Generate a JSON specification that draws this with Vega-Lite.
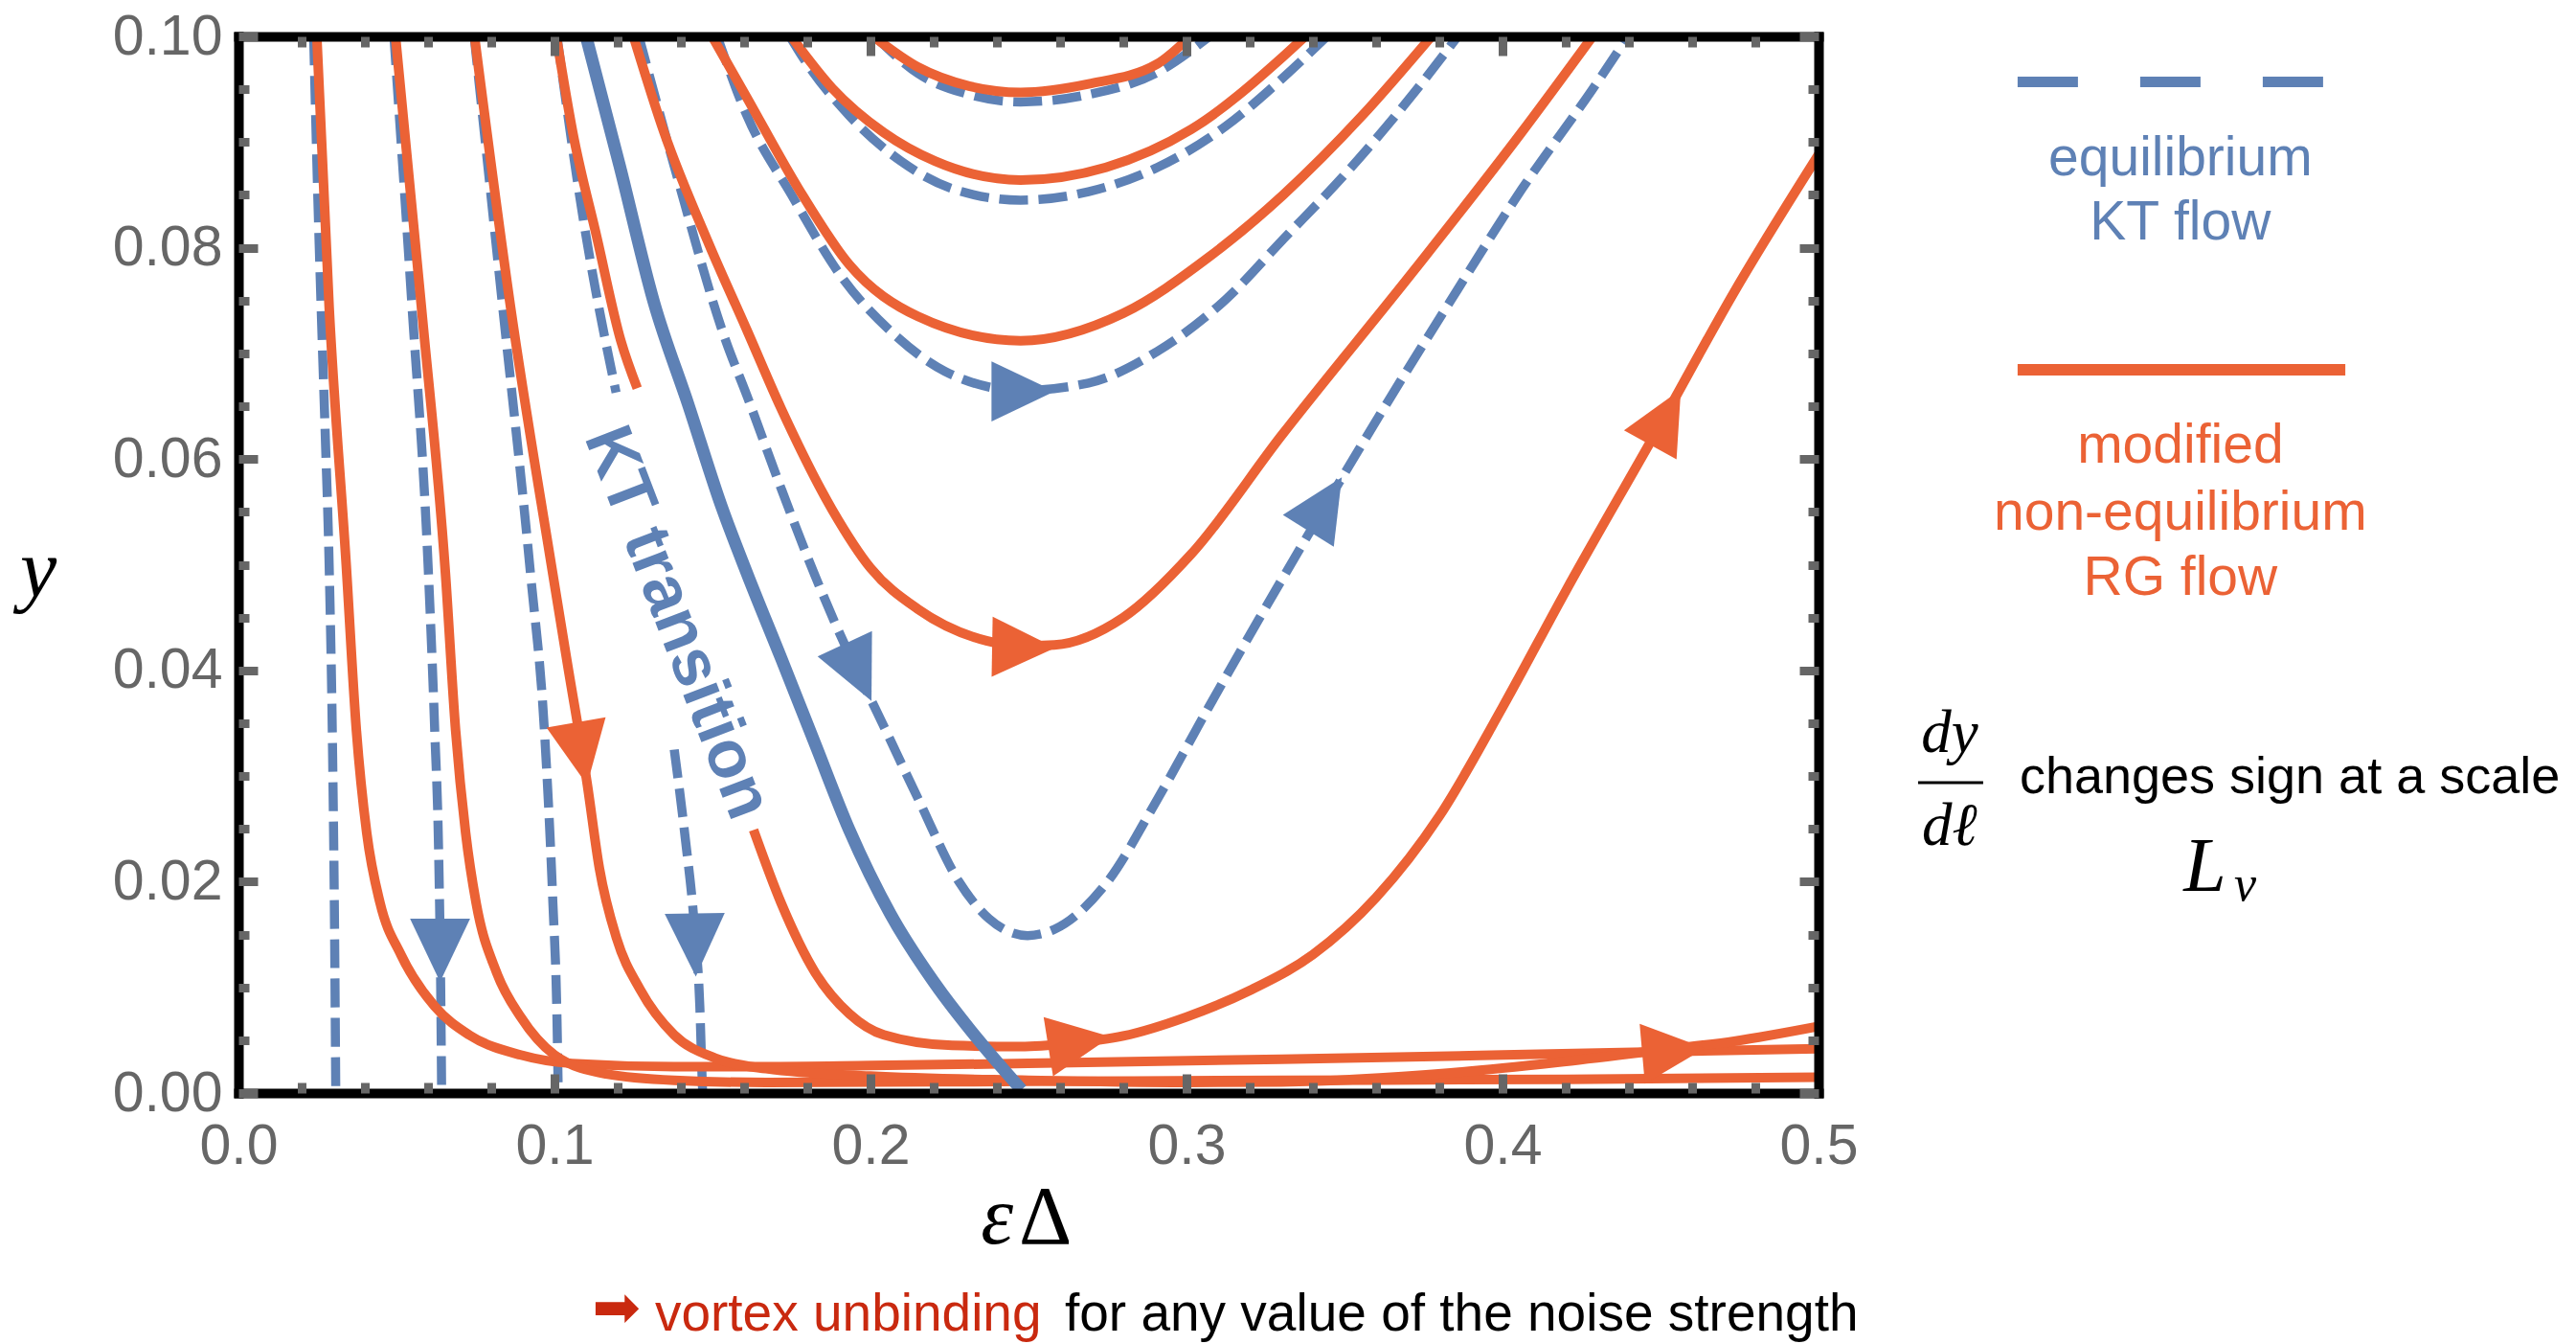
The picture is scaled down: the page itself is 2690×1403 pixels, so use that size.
{
"$schema":"https://vega.github.io/schema/vega-lite/v6.json",
"width":1650,"height":1103,
"autosize":{"type":"none"},
"padding":{"left":249,"top":38,"right":791,"bottom":262},
"background":"white",
"config":{"view":{"stroke":null}},
"datasets":{
"blue":[
{"c":"B1","x":0.0238,"y":0.1},{"c":"B1","x":0.025,"y":0.086},{"c":"B1","x":0.0262,"y":0.074},{"c":"B1","x":0.0275,"y":0.062},{"c":"B1","x":0.0287,"y":0.05},{"c":"B1","x":0.0298,"y":0.032},{"c":"B1","x":0.0304,"y":0.016},{"c":"B1","x":0.0308,"y":0},
{"c":"B2","x":0.0492,"y":0.1},{"c":"B2","x":0.0548,"y":0.075},{"c":"B2","x":0.06,"y":0.05},{"c":"B2","x":0.0621,"y":0.0344},{"c":"B2","x":0.0634,"y":0.022},{"c":"B2","x":0.064,"y":0.01},{"c":"B2","x":0.0643,"y":0},
{"c":"B3","x":0.0746,"y":0.1},{"c":"B3","x":0.0834,"y":0.075},{"c":"B3","x":0.0924,"y":0.0492},{"c":"B3","x":0.0968,"y":0.0344},{"c":"B3","x":0.0995,"y":0.018},{"c":"B3","x":0.1008,"y":0.007},{"c":"B3","x":0.1012,"y":0},
{"c":"B4a","x":0.1008,"y":0.1},{"c":"B4a","x":0.1095,"y":0.082},{"c":"B4a","x":0.1195,"y":0.0663},
{"c":"B4b","x":0.1379,"y":0.0325},{"c":"B4b","x":0.1412,"y":0.0246},{"c":"B4b","x":0.1445,"y":0.015},{"c":"B4b","x":0.146,"y":0.0082},{"c":"B4b","x":0.1467,"y":0.0016},{"c":"B4b","x":0.1469,"y":0},
{"c":"B5","x":0.1267,"y":0.1},{"c":"B5","x":0.138,"y":0.0876},{"c":"B5","x":0.1542,"y":0.0712},{"c":"B5","x":0.1609,"y":0.066},{"c":"B5","x":0.172,"y":0.057},{"c":"B5","x":0.1824,"y":0.049},{"c":"B5","x":0.1945,"y":0.0407},{"c":"B5","x":0.202,"y":0.0361},{"c":"B5","x":0.215,"y":0.0279},{"c":"B5","x":0.228,"y":0.02},{"c":"B5","x":0.2375,"y":0.0165},{"c":"B5","x":0.2497,"y":0.0149},{"c":"B5","x":0.2583,"y":0.0155},{"c":"B5","x":0.2745,"y":0.0198},{"c":"B5","x":0.2908,"y":0.0278},{"c":"B5","x":0.307,"y":0.0365},{"c":"B5","x":0.3232,"y":0.045},{"c":"B5","x":0.3418,"y":0.0545},{"c":"B5","x":0.3612,"y":0.0642},{"c":"B5","x":0.3836,"y":0.075},{"c":"B5","x":0.406,"y":0.0855},{"c":"B5","x":0.4285,"y":0.095},{"c":"B5","x":0.4397,"y":0.1},
{"c":"B6","x":0.1515,"y":0.1},{"c":"B6","x":0.1609,"y":0.0925},{"c":"B6","x":0.175,"y":0.085},{"c":"B6","x":0.1912,"y":0.0771},{"c":"B6","x":0.2075,"y":0.0718},{"c":"B6","x":0.2236,"y":0.0683},{"c":"B6","x":0.2475,"y":0.0665},{"c":"B6","x":0.269,"y":0.0672},{"c":"B6","x":0.2908,"y":0.0702},{"c":"B6","x":0.3124,"y":0.0751},{"c":"B6","x":0.3306,"y":0.0808},{"c":"B6","x":0.35,"y":0.0869},{"c":"B6","x":0.3724,"y":0.0948},{"c":"B6","x":0.3858,"y":0.1},
{"c":"B7","x":0.1745,"y":0.1},{"c":"B7","x":0.1782,"y":0.0982},{"c":"B7","x":0.1933,"y":0.0925},{"c":"B7","x":0.2096,"y":0.0882},{"c":"B7","x":0.2258,"y":0.0856},{"c":"B7","x":0.2475,"y":0.0845},{"c":"B7","x":0.269,"y":0.0853},{"c":"B7","x":0.2908,"y":0.0876},{"c":"B7","x":0.3124,"y":0.0915},{"c":"B7","x":0.3306,"y":0.0961},{"c":"B7","x":0.3444,"y":0.1},
{"c":"B8","x":0.2015,"y":0.1},{"c":"B8","x":0.215,"y":0.0965},{"c":"B8","x":0.2312,"y":0.0945},{"c":"B8","x":0.2475,"y":0.0938},{"c":"B8","x":0.269,"y":0.0945},{"c":"B8","x":0.2908,"y":0.0966},{"c":"B8","x":0.3073,"y":0.1}
],
"orange":[
{"c":"O1","x":0.0248,"y":0.1},{"c":"O1","x":0.0287,"y":0.0744},{"c":"O1","x":0.0341,"y":0.05},{"c":"O1","x":0.0373,"y":0.0344},{"c":"O1","x":0.0406,"y":0.0246},{"c":"O1","x":0.0448,"y":0.018},{"c":"O1","x":0.0514,"y":0.0131},{"c":"O1","x":0.0621,"y":0.0082},{"c":"O1","x":0.073,"y":0.0055},{"c":"O1","x":0.0893,"y":0.0036},{"c":"O1","x":0.1055,"y":0.0028},{"c":"O1","x":0.1379,"y":0.0025},{"c":"O1","x":0.167,"y":0.0025},{"c":"O1","x":0.2,"y":0.0026},{"c":"O1","x":0.25,"y":0.0028},{"c":"O1","x":0.33,"y":0.0032},{"c":"O1","x":0.4,"y":0.0036},{"c":"O1","x":0.5,"y":0.0042},
{"c":"O2","x":0.0497,"y":0.1},{"c":"O2","x":0.0579,"y":0.0744},{"c":"O2","x":0.0655,"y":0.0492},{"c":"O2","x":0.0687,"y":0.0344},{"c":"O2","x":0.0719,"y":0.0246},{"c":"O2","x":0.0752,"y":0.018},{"c":"O2","x":0.0817,"y":0.0114},{"c":"O2","x":0.0893,"y":0.0072},{"c":"O2","x":0.1,"y":0.0036},{"c":"O2","x":0.1164,"y":0.0018},{"c":"O2","x":0.1379,"y":0.0012},{"c":"O2","x":0.167,"y":0.001},{"c":"O2","x":0.25,"y":0.0011},{"c":"O2","x":0.33,"y":0.0012},{"c":"O2","x":0.42,"y":0.0013},{"c":"O2","x":0.5,"y":0.0015},
{"c":"O3","x":0.0747,"y":0.1},{"c":"O3","x":0.0861,"y":0.0744},{"c":"O3","x":0.099,"y":0.05},{"c":"O3","x":0.1039,"y":0.041},{"c":"O3","x":0.1104,"y":0.0292},{"c":"O3","x":0.1142,"y":0.0213},{"c":"O3","x":0.1196,"y":0.0147},{"c":"O3","x":0.1271,"y":0.0098},{"c":"O3","x":0.1379,"y":0.0055},{"c":"O3","x":0.1509,"y":0.0033},{"c":"O3","x":0.167,"y":0.0023},{"c":"O3","x":0.2,"y":0.0016},{"c":"O3","x":0.25,"y":0.0012},{"c":"O3","x":0.3,"y":0.001},{"c":"O3","x":0.33,"y":0.00105},{"c":"O3","x":0.3836,"y":0.0019},{"c":"O3","x":0.4173,"y":0.0029},{"c":"O3","x":0.451,"y":0.0041},{"c":"O3","x":0.4733,"y":0.0049},{"c":"O3","x":0.5,"y":0.0063},
{"c":"O4a","x":0.1006,"y":0.1},{"c":"O4a","x":0.1058,"y":0.0909},{"c":"O4a","x":0.1134,"y":0.081},{"c":"O4a","x":0.121,"y":0.0712},{"c":"O4a","x":0.1262,"y":0.0667},
{"c":"O4b","x":0.163,"y":0.0249},{"c":"O4b","x":0.1717,"y":0.018},{"c":"O4b","x":0.1825,"y":0.0114},{"c":"O4b","x":0.1933,"y":0.0075},{"c":"O4b","x":0.2042,"y":0.0055},{"c":"O4b","x":0.2258,"y":0.0045},{"c":"O4b","x":0.2475,"y":0.0044},{"c":"O4b","x":0.2629,"y":0.0047},{"c":"O4b","x":0.28,"y":0.0054},{"c":"O4b","x":0.3,"y":0.0072},{"c":"O4b","x":0.32,"y":0.0097},{"c":"O4b","x":0.34,"y":0.0131},{"c":"O4b","x":0.36,"y":0.0185},{"c":"O4b","x":0.38,"y":0.0262},{"c":"O4b","x":0.4,"y":0.0365},{"c":"O4b","x":0.42,"y":0.0475},{"c":"O4b","x":0.45,"y":0.0633},{"c":"O4b","x":0.4733,"y":0.0758},{"c":"O4b","x":0.5,"y":0.0888},
{"c":"O5","x":0.125,"y":0.1},{"c":"O5","x":0.1347,"y":0.0909},{"c":"O5","x":0.1488,"y":0.0804},{"c":"O5","x":0.1609,"y":0.0722},{"c":"O5","x":0.1717,"y":0.0648},{"c":"O5","x":0.1879,"y":0.0552},{"c":"O5","x":0.2,"y":0.0497},{"c":"O5","x":0.215,"y":0.0458},{"c":"O5","x":0.2367,"y":0.0428},{"c":"O5","x":0.2475,"y":0.0423},{"c":"O5","x":0.2582,"y":0.0424},{"c":"O5","x":0.28,"y":0.045},{"c":"O5","x":0.3015,"y":0.051},{"c":"O5","x":0.33,"y":0.0622},{"c":"O5","x":0.3724,"y":0.078},{"c":"O5","x":0.406,"y":0.0909},{"c":"O5","x":0.4285,"y":0.1},
{"c":"O6","x":0.1499,"y":0.1},{"c":"O6","x":0.1609,"y":0.0942},{"c":"O6","x":0.1772,"y":0.0856},{"c":"O6","x":0.1933,"y":0.0784},{"c":"O6","x":0.215,"y":0.0735},{"c":"O6","x":0.2475,"y":0.0712},{"c":"O6","x":0.28,"y":0.0738},{"c":"O6","x":0.307,"y":0.0791},{"c":"O6","x":0.3306,"y":0.085},{"c":"O6","x":0.3556,"y":0.0925},{"c":"O6","x":0.3775,"y":0.1},
{"c":"O7","x":0.1749,"y":0.1},{"c":"O7","x":0.1879,"y":0.0951},{"c":"O7","x":0.2042,"y":0.0909},{"c":"O7","x":0.2204,"y":0.0882},{"c":"O7","x":0.2475,"y":0.0864},{"c":"O7","x":0.2745,"y":0.0876},{"c":"O7","x":0.3015,"y":0.0912},{"c":"O7","x":0.3306,"y":0.0981},{"c":"O7","x":0.3375,"y":0.1},
{"c":"O8","x":0.2009,"y":0.1},{"c":"O8","x":0.215,"y":0.0971},{"c":"O8","x":0.2312,"y":0.0953},{"c":"O8","x":0.2475,"y":0.0947},{"c":"O8","x":0.269,"y":0.0955},{"c":"O8","x":0.2908,"y":0.0974},{"c":"O8","x":0.3012,"y":0.1}
],
"sep":[
{"x":0.11,"y":0.1},{"x":0.1206,"y":0.0878},{"x":0.1315,"y":0.0748},{"x":0.1424,"y":0.0651},{"x":0.153,"y":0.0554},{"x":0.1609,"y":0.0492},{"x":0.1718,"y":0.0411},{"x":0.1824,"y":0.0331},{"x":0.1933,"y":0.0249},{"x":0.2064,"y":0.0169},{"x":0.2203,"y":0.0104},{"x":0.2345,"y":0.0049},{"x":0.2478,"y":0.0003}
],
"arrows":[
{"x":0.0638,"y":0.0145,"dir":180,"k":"KT"},{"x":0.1445,"y":0.015,"dir":179,"k":"KT"},{"x":0.108,"y":0.0331,"dir":170,"k":"RG"},{"x":0.1947,"y":0.0407,"dir":155,"k":"KT"},{"x":0.245,"y":0.0664,"dir":90,"k":"KT"},{"x":0.2452,"y":0.0422,"dir":91,"k":"RG"},{"x":0.2629,"y":0.0047,"dir":81,"k":"RG"},{"x":0.3421,"y":0.0549,"dir":32,"k":"KT"},{"x":0.45,"y":0.0631,"dir":29,"k":"RG"},{"x":0.4509,"y":0.0039,"dir":85,"k":"RG"}
]
},
"encoding":{
"x":{"field":"x","type":"quantitative","scale":{"domain":[0,0.5],"nice":false,"zero":false},"axis":null},
"y":{"field":"y","type":"quantitative","scale":{"domain":[0,0.1],"nice":false,"zero":false},"axis":null}
},
"layer":[
{"data":{"name":"blue"},
 "mark":{"type":"line","color":"#5E81B5","strokeWidth":9.5,"strokeDash":[30,11],"interpolate":"monotone","clip":true},
 "encoding":{
  "x":{"field":"x","type":"quantitative","scale":{"domain":[0,0.5],"nice":false,"zero":false},"axis":{"orient":"bottom","title":null,"grid":false,"domain":true,"domainColor":"#000000","domainWidth":10,"domainCap":"square","ticks":false,"labels":false,"zindex":1}},
  "y":{"field":"y","type":"quantitative","scale":{"domain":[0,0.1],"nice":false,"zero":false},"axis":{"orient":"left","title":null,"grid":false,"domain":true,"domainColor":"#000000","domainWidth":10,"domainCap":"square","ticks":false,"labels":false,"zindex":1}},
  "detail":{"field":"c","type":"nominal"}}},
{"data":{"name":"orange"},
 "mark":{"type":"line","color":"#EB6235","strokeWidth":10,"interpolate":"monotone","clip":true},
 "encoding":{
  "x":{"field":"x","type":"quantitative","scale":{"domain":[0,0.5],"nice":false,"zero":false},"axis":{"orient":"top","title":null,"grid":false,"domain":true,"domainColor":"#000000","domainWidth":10,"domainCap":"square","ticks":false,"labels":false,"zindex":1}},
  "y":{"field":"y","type":"quantitative","scale":{"domain":[0,0.1],"nice":false,"zero":false},"axis":{"orient":"right","title":null,"grid":false,"domain":true,"domainColor":"#000000","domainWidth":10,"domainCap":"square","ticks":false,"labels":false,"zindex":1}},
  "detail":{"field":"c","type":"nominal"}}},
{"data":{"name":"sep"},
 "mark":{"type":"line","color":"#5E81B5","strokeWidth":13,"interpolate":"monotone","clip":true},
 "encoding":{
  "x":{"field":"x","type":"quantitative","scale":{"domain":[0,0.5],"nice":false,"zero":false},"axis":{"orient":"bottom","title":null,"grid":false,"domain":false,"values":[0,0.1,0.2,0.3,0.4,0.5],"format":".1f","tickSize":-20,"tickWidth":9,"tickColor":"#666666","labelFont":"Liberation Sans","labelFontSize":59,"labelColor":"#666666","labelPadding":46,"labelFlush":false,"labelOverlap":false,"zindex":1}},
  "y":{"field":"y","type":"quantitative","scale":{"domain":[0,0.1],"nice":false,"zero":false},"axis":{"orient":"left","title":null,"grid":false,"domain":false,"values":[0,0.02,0.04,0.06,0.08,0.1],"format":".2f","tickSize":-20,"tickWidth":9,"tickColor":"#666666","labelFont":"Liberation Sans","labelFontSize":59,"labelColor":"#666666","labelPadding":37,"labelFlush":false,"labelOverlap":false,"zindex":1}}}},
{"data":{"name":"arrows"},
 "mark":{"type":"point","shape":"M0,-1.33L0.95,0.67L-0.95,0.67Z","size":4356,"filled":true,"opacity":1,"strokeWidth":0},
 "encoding":{
  "x":{"field":"x","type":"quantitative","scale":{"domain":[0,0.5],"nice":false,"zero":false},"axis":{"orient":"bottom","title":null,"grid":false,"domain":false,"labels":false,"values":[0.02,0.04,0.06,0.08,0.12,0.14,0.16,0.18,0.22,0.24,0.26,0.28,0.32,0.34,0.36,0.38,0.42,0.44,0.46,0.48],"tickSize":-11,"tickWidth":9,"tickColor":"#666666","zindex":1}},
  "y":{"field":"y","type":"quantitative","scale":{"domain":[0,0.1],"nice":false,"zero":false},"axis":{"orient":"left","title":null,"grid":false,"domain":false,"labels":false,"values":[0.005,0.01,0.015,0.025,0.03,0.035,0.045,0.05,0.055,0.065,0.07,0.075,0.085,0.09,0.095],"tickSize":-11,"tickWidth":9,"tickColor":"#666666","zindex":1}},
  "angle":{"field":"dir","type":"quantitative","scale":null},
  "color":{"field":"k","type":"nominal","scale":{"domain":["KT","RG"],"range":["#5E81B5","#EB6235"]},"legend":null}}},
{"data":{"values":[{"x":0.1388,"y":0.0445,"t":"KT transition"}]},
 "mark":{"type":"text","font":"Liberation Sans","fontWeight":"bold","fontSize":70,"angle":69,"align":"center","baseline":"middle","color":"#5E81B5"},
 "encoding":{
  "x":{"field":"x","type":"quantitative","scale":{"domain":[0,0.5],"nice":false,"zero":false},"axis":{"orient":"top","title":null,"grid":false,"domain":false,"labels":false,"values":[0,0.1,0.2,0.3,0.4,0.5],"tickSize":-20,"tickWidth":9,"tickColor":"#666666","zindex":1}},
  "y":{"field":"y","type":"quantitative","scale":{"domain":[0,0.1],"nice":false,"zero":false},"axis":{"orient":"right","title":null,"grid":false,"domain":false,"labels":false,"values":[0,0.02,0.04,0.06,0.08,0.1],"tickSize":-20,"tickWidth":9,"tickColor":"#666666","zindex":1}},
  "text":{"field":"t","type":"nominal"}}},
{"data":{"values":[{"x":0.563,"y":0.0957},{"x":0.6606,"y":0.0957}]},
 "mark":{"type":"line","color":"#5E81B5","strokeWidth":11,"strokeDash":[63,65]},
 "encoding":{
  "x":{"field":"x","type":"quantitative","scale":{"domain":[0,0.5],"nice":false,"zero":false},"axis":{"orient":"top","title":null,"grid":false,"domain":false,"labels":false,"values":[0.02,0.04,0.06,0.08,0.12,0.14,0.16,0.18,0.22,0.24,0.26,0.28,0.32,0.34,0.36,0.38,0.42,0.44,0.46,0.48],"tickSize":-11,"tickWidth":9,"tickColor":"#666666","zindex":1}},
  "y":{"field":"y","type":"quantitative","scale":{"domain":[0,0.1],"nice":false,"zero":false},"axis":{"orient":"right","title":null,"grid":false,"domain":false,"labels":false,"values":[0.005,0.01,0.015,0.025,0.03,0.035,0.045,0.05,0.055,0.065,0.07,0.075,0.085,0.09,0.095],"tickSize":-11,"tickWidth":9,"tickColor":"#666666","zindex":1}}}},
{"data":{"values":[{"x":0.563,"y":0.06845},{"x":0.6667,"y":0.06845}]},
 "mark":{"type":"line","color":"#EB6235","strokeWidth":12}},
{"data":{"values":[{"x":0.6145,"y":0.08685,"t":"equilibrium"},{"x":0.6145,"y":0.08078,"t":"KT flow"}]},
 "mark":{"type":"text","font":"Liberation Sans","fontSize":57,"color":"#5E81B5","align":"center","baseline":"alphabetic"},
 "encoding":{"text":{"field":"t","type":"nominal"}}},
{"data":{"values":[{"x":0.6145,"y":0.05966,"t":"modified"},{"x":0.6145,"y":0.05331,"t":"non-equilibrium"},{"x":0.6145,"y":0.04714,"t":"RG flow"}]},
 "mark":{"type":"text","font":"Liberation Sans","fontSize":57,"color":"#EB6235","align":"center","baseline":"alphabetic"},
 "encoding":{"text":{"field":"t","type":"nominal"}}},
{"data":{"values":[{"x":0.5636,"y":0.02838,"t":"changes sign at a scale"}]},
 "mark":{"type":"text","font":"Liberation Sans","fontSize":54,"color":"#000000","align":"left","baseline":"alphabetic"},
 "encoding":{"text":{"field":"t","type":"nominal"}}},
{"data":{"values":[{"x":0.5415,"y":0.0323,"t":"dy"},{"x":0.5415,"y":0.0235,"t":"dℓ"}]},
 "mark":{"type":"text","font":"Liberation Serif","fontStyle":"italic","fontSize":63,"color":"#000000","align":"center","baseline":"alphabetic"},
 "encoding":{"text":{"field":"t","type":"nominal"}}},
{"data":{"values":[{"x":0.5315,"x2":0.5521,"y":0.02937}]},
 "mark":{"type":"rule","color":"#000000","strokeWidth":3},
 "encoding":{"x2":{"field":"x2"}}},
{"data":{"values":[{"x":0.6155,"y":0.01913,"t":"L"}]},
 "mark":{"type":"text","font":"Liberation Serif","fontStyle":"italic","fontSize":80,"color":"#000000","align":"left","baseline":"alphabetic"},
 "encoding":{"text":{"field":"t","type":"nominal"}}},
{"data":{"values":[{"x":0.6315,"y":0.01822,"t":"v"}]},
 "mark":{"type":"text","font":"Liberation Serif","fontStyle":"italic","fontSize":52,"color":"#000000","align":"left","baseline":"alphabetic"},
 "encoding":{"text":{"field":"t","type":"nominal"}}},
{"data":{"values":[{"x":0.2452,"y":-0.01423,"t":"ε"}]},
 "mark":{"type":"text","font":"Liberation Serif","fontStyle":"italic","fontSize":86,"color":"#000000","align":"right","baseline":"alphabetic"},
 "encoding":{"text":{"field":"t","type":"nominal"}}},
{"data":{"values":[{"x":0.247,"y":-0.01423,"t":"Δ"}]},
 "mark":{"type":"text","font":"Liberation Serif","fontSize":86,"color":"#000000","align":"left","baseline":"alphabetic"},
 "encoding":{"text":{"field":"t","type":"nominal"}}},
{"data":{"values":[{"x":-0.0633,"y":0.04705,"t":"y"}]},
 "mark":{"type":"text","font":"Liberation Serif","fontStyle":"italic","fontSize":86,"color":"#000000","align":"center","baseline":"alphabetic"},
 "encoding":{"text":{"field":"t","type":"nominal"}}},
{"data":{"values":[{"x":0.112,"y":-0.0221,"t":"➡"}]},
 "mark":{"type":"text","font":"DejaVu Sans","fontSize":60,"color":"#C9290F","align":"left","baseline":"alphabetic"},
 "encoding":{"text":{"field":"t","type":"nominal"}}},
{"data":{"values":[{"x":0.1318,"y":-0.02248,"t":"vortex unbinding"}]},
 "mark":{"type":"text","font":"Liberation Sans","fontSize":55,"color":"#C9290F","align":"left","baseline":"alphabetic"},
 "encoding":{"text":{"field":"t","type":"nominal"}}},
{"data":{"values":[{"x":0.2615,"y":-0.02248,"t":"for any value of the noise strength"}]},
 "mark":{"type":"text","font":"Liberation Sans","fontSize":55,"color":"#000000","align":"left","baseline":"alphabetic"},
 "encoding":{"text":{"field":"t","type":"nominal"}}}
],
"resolve":{"axis":{"x":"independent","y":"independent"}}
}
